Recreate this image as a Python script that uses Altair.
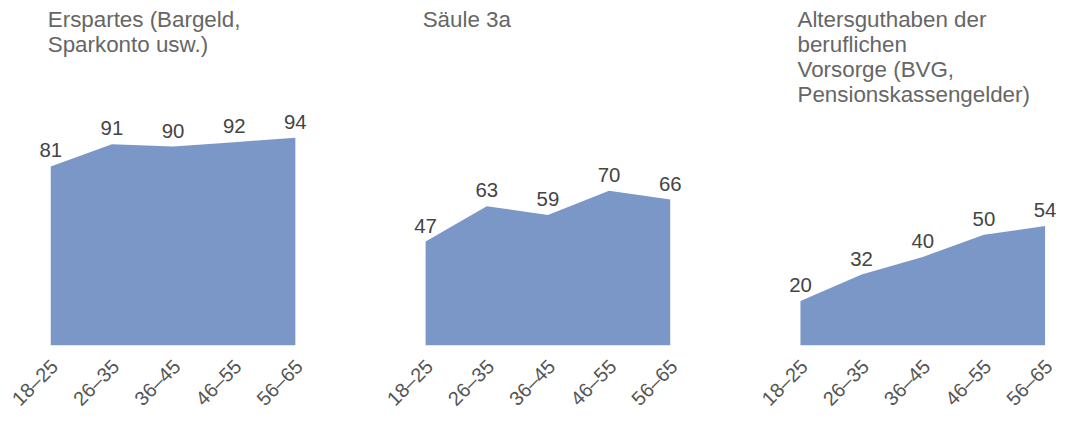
import altair as alt
import pandas as pd

ages = ["18–25", "26–35", "36–45", "46–55", "56–65"]

title_1 = ["Erspartes (Bargeld,", "Sparkonto usw.)"]
title_2 = ["Säule 3a"]
title_3 = ["Altersguthaben der", "beruflichen", "Vorsorge (BVG,", "Pensionskassengelder)"]

values_1 = [81, 91, 90, 92, 94]
values_2 = [47, 63, 59, 70, 66]
values_3 = [20, 32, 40, 50, 54]

FONT = "Liberation Sans"
AREA_COLOR = "#7b97c8"


def panel(title_lines, vals):
    df = pd.DataFrame({"age": ages, "v": vals})
    base = alt.Chart(df).encode(
        x=alt.X(
            "age:N",
            sort=ages,
            scale=alt.Scale(type="point", padding=0),
            axis=alt.Axis(
                title=None,
                labelAngle=315,
                domain=False,
                ticks=False,
                labelFontSize=20,
                labelFont=FONT,
                labelColor="#555555",
                labelPadding=18,
                labelAlign="right",
                labelBaseline="middle",
                labelOffset=4,
            ),
        ),
        y=alt.Y("v:Q", scale=alt.Scale(domain=[0, 100]), axis=None),
    )
    area = base.mark_area(color=AREA_COLOR, opacity=1)
    labels = base.mark_text(
        dy=-5, baseline="bottom", fontSize=20.5, font=FONT, color="#444444"
    ).encode(text="v:Q")
    ttl = (
        alt.Chart(pd.DataFrame({"t": [0]}))
        .mark_text(
            align="left",
            baseline="alphabetic",
            fontSize=22.5,
            lineHeight=25,
            font=FONT,
            color="#666666",
            text=title_lines,
        )
        .encode(x=alt.value(-3), y=alt.value(-98))
    )
    return alt.layer(area, labels, ttl).properties(width=246, height=222)


chart = (
    alt.hconcat(
        panel(title_1, values_1),
        panel(title_2, values_2),
        panel(title_3, values_3),
        spacing=131,
        bounds="flush",
    )
    .properties(padding={"left": 0, "top": 0, "right": 0, "bottom": 0})
    .configure_view(stroke=None)
)

chart.save("out.html", embed_options={"renderer": "svg", "actions": False})
